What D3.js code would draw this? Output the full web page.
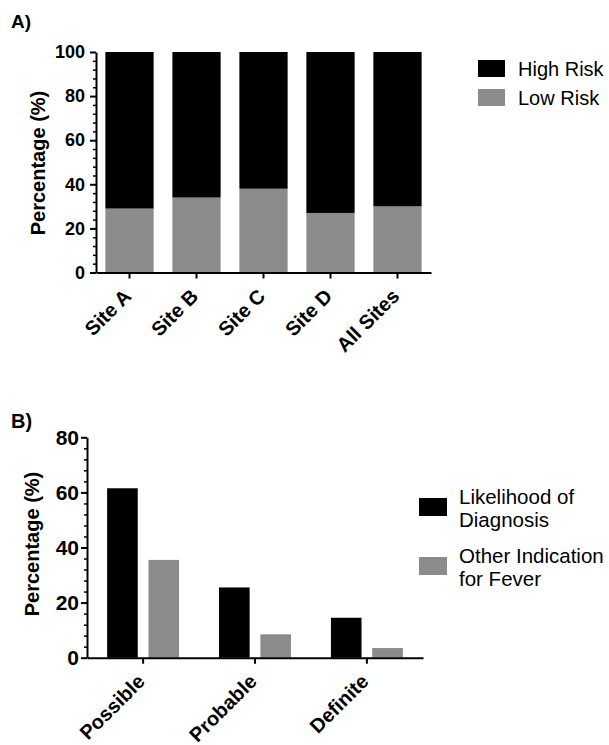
<!DOCTYPE html>
<html>
<head>
<meta charset="utf-8">
<script src="https://cdn.jsdelivr.net/npm/d3@7"></script>
<style>
  body { margin: 0; background: #fff; }
  svg { display: block; }
  .axis path, .axis line { stroke: #000; stroke-width: 2px; }
  .axis text { font-family: "Liberation Sans", Arial, sans-serif; font-weight: bold; fill: #000; }
  .minor line { stroke-width: 1.5px; }
  .ylab { font-family: "Liberation Sans", Arial, sans-serif; font-weight: bold; font-size: 20px; }
  .panel { font-family: "Liberation Sans", Arial, sans-serif; font-weight: bold; font-size: 19px; }
  .legend text { font-family: "Liberation Sans", Arial, sans-serif; font-size: 20px; }
</style>
</head>
<body>
<div id="chart"></div>
<script>
// Panel A data
const sites = ['Site A', 'Site B', 'Site C', 'Site D', 'All Sites'];
const lowRisk = [29, 34, 38, 27, 30];
const highRisk = [71, 66, 62, 73, 70];
const riskSeries = ['High Risk', 'Low Risk'];
const yTicksA = [0, 20, 40, 60, 80, 100];

// Panel B data
const likelihoods = ['Possible', 'Probable', 'Definite'];
const diagnosisPct = [61.5, 25.5, 14.5];
const otherFeverPct = [35.5, 8.5, 3.5];
const diagSeries = [['Likelihood of', 'Diagnosis'], ['Other Indication', 'for Fever']];
const yTicksB = [0, 20, 40, 60, 80];

const black = '#000000';
const gray = '#8b8b8b';

const svg = d3.select('#chart').append('svg')
  .attr('width', 609)
  .attr('height', 745);

function yAxes(g, y, ticks, maxV, fontSize, pad) {
  const minorVals = d3.range(0, maxV + 0.1, 4).filter(v => ticks.indexOf(v) < 0);
  g.append('g')
    .attr('class', 'axis minor')
    .call(d3.axisLeft(y).tickValues(minorVals).tickSize(3).tickFormat(''))
    .select('.domain').remove();
  g.append('g')
    .attr('class', 'axis')
    .call(d3.axisLeft(y).tickValues(ticks).tickSize(6).tickSizeOuter(0).tickPadding(pad))
    .selectAll('text')
    .style('font-size', fontSize + 'px');
}

function xAxis(g, x, yPos, dy) {
  const ax = g.append('g')
    .attr('class', 'axis')
    .attr('transform', `translate(0, ${yPos})`)
    .call(d3.axisBottom(x).tickSize(6).tickSizeOuter(0));
  ax.selectAll('text')
    .style('font-size', '20px')
    .attr('text-anchor', 'end')
    .attr('dy', null)
    .attr('y', 0)
    .attr('transform', `translate(3, ${dy}) rotate(-45)`);
}

/* Panel A: stacked percentage bars */
const xA = d3.scaleBand().domain(sites).range([96, 431]).paddingInner(0.28).paddingOuter(0.14);
const yA = d3.scaleLinear().domain([0, 100]).range([272.5, 52]);

const gA = svg.append('g');
gA.selectAll('.low')
  .data(sites).enter()
  .append('rect')
  .attr('x', d => xA(d))
  .attr('width', xA.bandwidth())
  .attr('y', (d, i) => yA(lowRisk[i]))
  .attr('height', (d, i) => yA(0) - yA(lowRisk[i]))
  .attr('fill', gray);
gA.selectAll('.high')
  .data(sites).enter()
  .append('rect')
  .attr('x', d => xA(d))
  .attr('width', xA.bandwidth())
  .attr('y', (d, i) => yA(lowRisk[i] + highRisk[i]))
  .attr('height', (d, i) => yA(lowRisk[i]) - yA(lowRisk[i] + highRisk[i]))
  .attr('fill', black);

yAxes(gA.append('g').attr('transform', 'translate(96,0)'), yA, yTicksA, 100, 18, 5);
xAxis(gA, xA, 272.5, 25);

gA.append('text').attr('class', 'ylab')
  .attr('transform', 'translate(45, 163) rotate(-90)')
  .attr('text-anchor', 'middle')
  .text('Percentage (%)');
gA.append('text').attr('class', 'panel').attr('x', 11).attr('y', 28).text('A)');

const legA = gA.append('g').attr('class', 'legend');
riskSeries.forEach((s, i) => {
  legA.append('rect').attr('x', 478).attr('y', 60 + i * 29).attr('width', 27).attr('height', 17)
    .attr('fill', i === 0 ? black : gray);
  legA.append('text').attr('x', 518).attr('y', 76 + i * 29).text(s);
});

/* Panel B: grouped bars */
const xB = d3.scaleBand().domain(likelihoods).range([87, 423]).paddingInner(0.357).paddingOuter(0.18);
const subB = d3.scaleBand().domain([0, 1]).range([0, xB.bandwidth()]).paddingInner(0.26);
const yB = d3.scaleLinear().domain([0, 80]).range([657.7, 437.3]);
const seriesB = [diagnosisPct, otherFeverPct];

const gB = svg.append('g');
seriesB.forEach((vals, s) => {
  gB.selectAll('.s' + s)
    .data(likelihoods).enter()
    .append('rect')
    .attr('x', d => xB(d) + subB(s))
    .attr('width', subB.bandwidth())
    .attr('y', (d, i) => yB(vals[i]))
    .attr('height', (d, i) => yB(0) - yB(vals[i]))
    .attr('fill', s === 0 ? black : gray);
});

yAxes(gB.append('g').attr('transform', 'translate(87,0)'), yB, yTicksB, 80, 21, 2);
xAxis(gB, xB, 657.7, 25);

gB.append('text').attr('class', 'ylab')
  .attr('transform', 'translate(39, 544) rotate(-90)')
  .attr('text-anchor', 'middle')
  .text('Percentage (%)');
gB.append('text').attr('class', 'panel').attr('x', 11).attr('y', 428).style('font-size', '20px').text('B)');

const legB = gB.append('g').attr('class', 'legend');
diagSeries.forEach((lines, i) => {
  legB.append('rect').attr('x', 419).attr('y', 498 + i * 59).attr('width', 28).attr('height', 18)
    .attr('fill', i === 0 ? black : gray);
  lines.forEach((ln, j) => {
    legB.append('text').attr('x', 459).attr('y', 504 + i * 59 + j * 22.5)
      .style('font-size', '20.5px').text(ln);
  });
});
</script>
</body>
</html>
